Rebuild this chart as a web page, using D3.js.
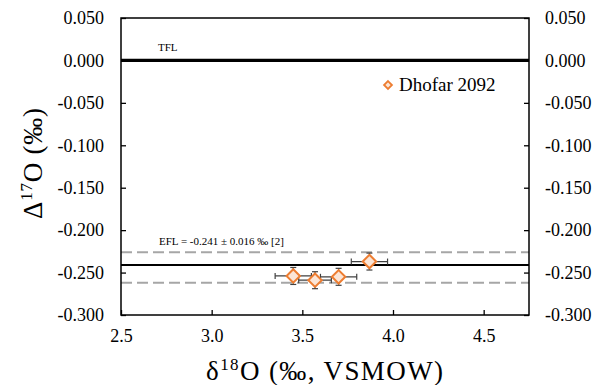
<!DOCTYPE html>
<html>
<head>
<meta charset="utf-8">
<script src="https://cdn.jsdelivr.net/npm/d3@7"></script>
<style>
  body { margin: 0; background: #fff; }
</style>
</head>
<body>
<svg id="chart" width="606" height="385"></svg>
<script>
// data
const d18O = [3.45, 3.57, 3.70, 3.87];
const D17O = [-0.254, -0.259, -0.255, -0.237];
const xErr = [0.10, 0.09, 0.10, 0.10];
const yErr = [0.010, 0.010, 0.010, 0.010];
const seriesName = "Dhofar 2092";

const tflValue = 0.0;
const eflValue = -0.241;
const eflBand = [-0.226, -0.262];
const eflLabel = "EFL = -0.241 \u00b1 0.016 \u2030 [2]";

const xTicks = [2.5, 3.0, 3.5, 4.0, 4.5];
const yTicks = [0.05, 0, -0.05, -0.1, -0.15, -0.2, -0.25, -0.3];

const FONT = "Liberation Serif";

const margin = {top: 18, right: 77, bottom: 70, left: 121};
const width = 606 - margin.left - margin.right;
const height = 385 - margin.top - margin.bottom;

const svg = d3.select("#chart").attr("font-family", FONT);
const g = svg.append("g")
  .attr("transform", "translate(" + margin.left + "," + margin.top + ")");

const x = d3.scaleLinear().domain([2.5, 4.75]).range([0, width]);
const y = d3.scaleLinear().domain([-0.3, 0.05]).range([height, 0]);

// reference lines
g.append("line")
  .attr("x1", 0).attr("x2", width)
  .attr("y1", y(tflValue)).attr("y2", y(tflValue))
  .attr("stroke", "#000").attr("stroke-width", 3.2);

g.selectAll(".band")
  .data(eflBand)
  .enter().append("line")
  .attr("class", "band")
  .attr("x1", 0).attr("x2", width)
  .attr("y1", d => y(d)).attr("y2", d => y(d))
  .attr("stroke", "#a6a6a6").attr("stroke-width", 2)
  .attr("stroke-dasharray", "11,5");

g.append("line")
  .attr("x1", 0).attr("x2", width)
  .attr("y1", y(eflValue)).attr("y2", y(eflValue))
  .attr("stroke", "#000").attr("stroke-width", 2);

g.append("text")
  .attr("x", 37).attr("y", y(tflValue) - 9)
  .attr("font-family", FONT).attr("font-size", 11)
  .text("TFL");

g.append("text")
  .attr("x", 38).attr("y", y(eflBand[0]) - 7)
  .attr("font-family", FONT).attr("font-size", 11)
  .text(eflLabel);

// axes
const xAxis = d3.axisBottom(x).tickValues(xTicks).tickSizeInner(-5).tickSizeOuter(0)
  .tickFormat(d3.format(".1f")).tickPadding(11);
const yAxisL = d3.axisLeft(y).tickValues(yTicks).tickSizeInner(-5).tickSizeOuter(0)
  .tickFormat(d3.format(".3f")).tickPadding(17);
const yAxisR = d3.axisRight(y).tickValues(yTicks).tickSizeInner(-5).tickSizeOuter(0)
  .tickFormat(d3.format(".3f")).tickPadding(16);

function styleAxis(sel) {
  sel.attr("font-family", FONT).attr("font-size", 18);
  sel.select(".domain").remove();
  sel.selectAll(".tick line").attr("stroke", "#000").attr("stroke-width", 1.3);
  sel.selectAll(".tick text").attr("font-size", 18).attr("fill", "#000")
    .attr("font-family", FONT)
    .text(function() { return this.textContent.replace("\u2212", "-"); });
}

g.append("g").attr("transform", "translate(0," + height + ")").call(xAxis).call(styleAxis)
  .selectAll(".tick text").attr("dy", "0.9em");
g.append("g").call(yAxisL).call(styleAxis);
g.append("g").attr("transform", "translate(" + width + ",0)").call(yAxisR).call(styleAxis);

g.append("rect")
  .attr("x", 0).attr("y", 0).attr("width", width).attr("height", height)
  .attr("fill", "none").attr("stroke", "#000").attr("stroke-width", 1.5);

// error bars
const pts = d18O.map((v, i) => ({x: v, y: D17O[i], ex: xErr[i], ey: yErr[i]}));
const errColor = "#404040";
const cap = 3;
const eb = g.selectAll(".err").data(pts).enter().append("g").attr("class", "err")
  .attr("stroke", errColor).attr("stroke-width", 1.2);
eb.append("line")
  .attr("x1", d => x(d.x - d.ex)).attr("x2", d => x(d.x + d.ex))
  .attr("y1", d => y(d.y)).attr("y2", d => y(d.y));
eb.append("line")
  .attr("x1", d => x(d.x - d.ex)).attr("x2", d => x(d.x - d.ex))
  .attr("y1", d => y(d.y) - cap).attr("y2", d => y(d.y) + cap);
eb.append("line")
  .attr("x1", d => x(d.x + d.ex)).attr("x2", d => x(d.x + d.ex))
  .attr("y1", d => y(d.y) - cap).attr("y2", d => y(d.y) + cap);
eb.append("line")
  .attr("x1", d => x(d.x)).attr("x2", d => x(d.x))
  .attr("y1", d => y(d.y - d.ey)).attr("y2", d => y(d.y + d.ey));
eb.append("line")
  .attr("x1", d => x(d.x) - cap).attr("x2", d => x(d.x) + cap)
  .attr("y1", d => y(d.y - d.ey)).attr("y2", d => y(d.y - d.ey));
eb.append("line")
  .attr("x1", d => x(d.x) - cap).attr("x2", d => x(d.x) + cap)
  .attr("y1", d => y(d.y + d.ey)).attr("y2", d => y(d.y + d.ey));

// markers
const diamond = d3.symbol().type(d3.symbolDiamond2).size(115);
g.selectAll(".pt").data(pts).enter().append("path")
  .attr("class", "pt")
  .attr("transform", d => "translate(" + x(d.x) + "," + y(d.y) + ")")
  .attr("d", diamond)
  .attr("fill", "#fbe5d6").attr("stroke", "#ed7d31").attr("stroke-width", 2);

// legend
const lg = g.append("g").attr("transform", "translate(" + (388 - margin.left) + "," + (85 - margin.top) + ")");
lg.append("path").attr("d", d3.symbol().type(d3.symbolDiamond2).size(40))
  .attr("fill", "#fbe5d6").attr("stroke", "#ed7d31").attr("stroke-width", 1.8);
lg.append("text").attr("x", 11).attr("y", 6)
  .attr("font-family", FONT).attr("font-size", 19).text(seriesName);

// axis titles
const xt = svg.append("text")
  .attr("x", 206).attr("y", 380)
  .attr("font-family", FONT)
  .attr("font-size", 27)
  .attr("textLength", 237).attr("lengthAdjust", "spacing");
xt.append("tspan").text("\u03b4");
xt.append("tspan").attr("font-size", 17).attr("dy", -10).text("18");
xt.append("tspan").attr("dy", 10).text("O (\u2030, VSMOW)");

const yt = svg.append("text")
  .attr("transform", "translate(42,219) rotate(-90)")
  .attr("font-family", FONT)
  .attr("font-size", 27)
  .attr("textLength", 111).attr("lengthAdjust", "spacing");
yt.append("tspan").text("\u0394");
yt.append("tspan").attr("font-size", 17).attr("dy", -10).text("17");
yt.append("tspan").attr("dy", 10).text("O (\u2030)");
</script>
</body>
</html>
